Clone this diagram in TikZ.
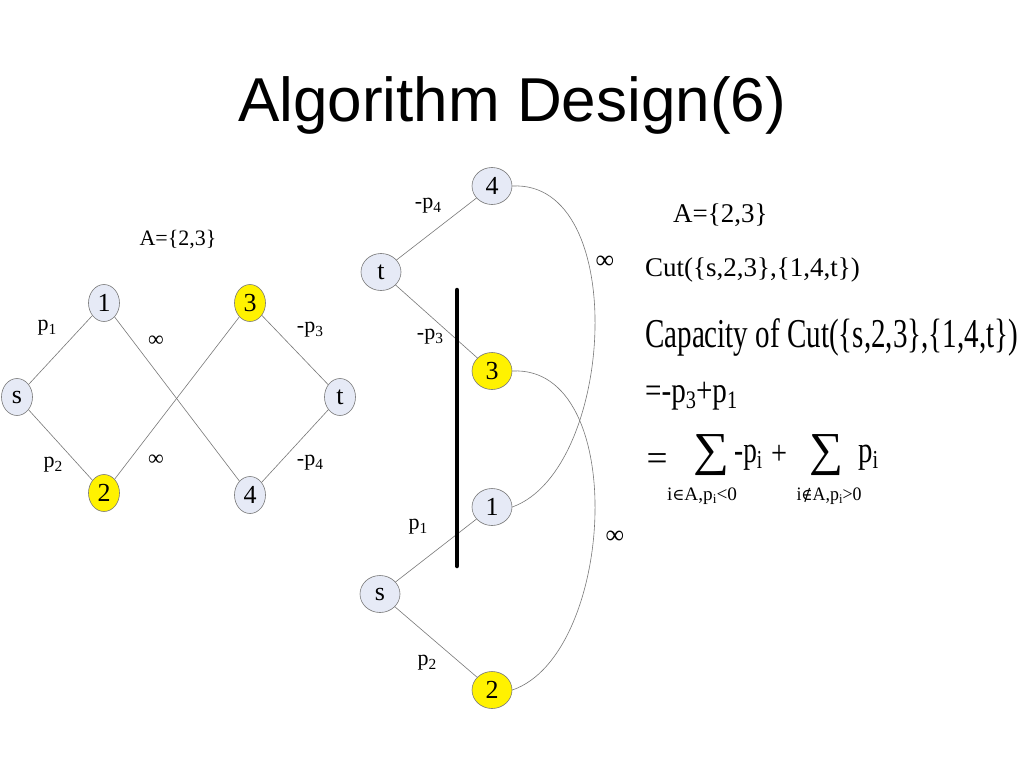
\documentclass[tikz,border=0pt]{standalone}
\usepackage{fontspec}
\setmainfont{Liberation Serif}
\newfontfamily\titlefont{Liberation Sans}
\newfontfamily\symfont{DejaVu Serif}
\usepackage{graphicx}
\usetikzlibrary{shapes.geometric}
\newcommand\lo[1]{\raisebox{-0.18em}{\scalebox{0.7}{#1}}}
\newcommand\fitw[2]{\resizebox{#1}{\height}{#2}}
\definecolor{nodefill}{RGB}{230,234,246}
\definecolor{edgegray}{RGB}{120,120,120}
\begin{document}
\begin{tikzpicture}[x=1pt,y=-1pt,
  vtx/.style={ellipse,draw=edgegray,fill=nodefill,line width=0.6pt,inner sep=0pt,
    minimum width=31pt,minimum height=37pt,font=\fontsize{26}{26}\selectfont},
  vtxb/.style={vtx,minimum width=40pt,minimum height=37pt},
  hot/.style={fill=yellow},
  edge/.style={draw=edgegray,line width=0.6pt},
  lbl/.style={inner sep=0pt,font=\fontsize{22}{24}\selectfont},
  lblb/.style={inner sep=0pt,font=\fontsize{26}{28}\selectfont},
  txt/.style={inner sep=0pt,font=\fontsize{27}{30}\selectfont},
  cutline/.style={line width=4.5pt,line cap=round,black}
]
\useasboundingbox[fill=white] (0,0) rectangle (1024,768);

% title
\node[inner sep=0pt,anchor=base,font=\titlefont\fontsize{62}{64}\selectfont] (title) at (512,121) {Algorithm Design(6)};

% ---------- left graph ----------
\node[vtx] (ls) at (17,397) {s};
\node[vtx] (l1) at (104,303) {1};
\node[vtx,hot] (l2) at (104,493) {2};
\node[vtx,hot] (l3) at (250,303) {3};
\node[vtx] (l4) at (250,495) {4};
\node[vtx] (lt) at (340,397) {t};
\draw[edge] (ls) -- (l1);
\draw[edge] (ls) -- (l2);
\draw[edge] (l1) -- (l4);
\draw[edge] (l2) -- (l3);
\draw[edge] (l3) -- (lt);
\draw[edge] (l4) -- (lt);
\node[lbl] (la) at (178,240) {A=\{2,3\}};
\node[lbl] (lp1) at (47,328) {p\lo{1}};
\node[lbl] (lp2) at (53,465) {p\lo{2}};
\node[lbl] (linf1) at (156,341) {∞};
\node[lbl] (linf2) at (156,460) {∞};
\node[lbl] (lp3) at (310,330) {-p\lo{3}};
\node[lbl] (lp4) at (310,463) {-p\lo{4}};

% ---------- middle graph ----------
\node[vtxb] (m4) at (492,186) {4};
\node[vtxb] (mt) at (381,272) {t};
\node[vtxb,hot] (m3) at (492,371) {3};
\node[vtxb] (m1) at (492,507) {1};
\node[vtxb] (ms) at (380,594) {s};
\node[vtxb,hot] (m2) at (492,690) {2};
\draw[edge] (mt) -- (m4);
\draw[edge] (mt) -- (m3);
\draw[edge] (ms) -- (m1);
\draw[edge] (ms) -- (m2);
\draw[edge] (m4.east) .. controls (630,180) and (615,470) .. (m1.east);
\draw[edge] (m3.east) .. controls (630,365) and (615,655) .. (m2.east);
\coordinate (ctop) at (457,290);
\coordinate (cbot) at (457,566);
\draw[cutline] (ctop) -- (cbot);
\node[lbl] (mp4) at (428,206) {-p\lo{4}};
\node[lbl] (mp3) at (430,337) {-p\lo{3}};
\node[lbl] (mp1) at (418,527) {p\lo{1}};
\node[lbl] (mp2) at (427,663) {p\lo{2}};
\node[lblb] (minf1) at (605,262) {∞};
\node[lblb] (minf2) at (615,537) {∞};

% ---------- right text ----------
\node[txt,anchor=west] (ra) at (673,215) {A=\{2,3\}};
\node[txt,anchor=west] (rcut) at (645,270) {Cut(\{s,2,3\},\{1,4,t\})};
\node[inner sep=0pt,anchor=base west] (rcap) at (645,347)
  {\fitw{373pt}{\fontsize{41}{43}\selectfont Capacity of Cut(\{s,2,3\},\{1,4,t\})}};
\node[inner sep=0pt,anchor=base west] (req1) at (645,402)
  {\fitw{92pt}{\fontsize{36}{38}\selectfont =-p\lo{3}+p\lo{1}}};
\node[inner sep=0pt] (req2) at (657,462) {\fitw{21pt}{\fontsize{37}{38}\selectfont =}};
\node[inner sep=0pt] (rsum1) at (711,455) {\resizebox*{36pt}{41pt}{∑}};
\node[inner sep=0pt] (rsum2) at (826,455) {\resizebox*{34pt}{41pt}{∑}};
\node[inner sep=0pt,anchor=base west] (rneg) at (734,462)
  {\fitw{28pt}{\fontsize{37}{38}\selectfont -p\lo{i}}};
\node[inner sep=0pt] (rplus) at (779,455) {\fitw{16pt}{\fontsize{34}{36}\selectfont +}};
\node[inner sep=0pt,anchor=base west] (rpos) at (858,462)
  {\fitw{20pt}{\fontsize{37}{38}\selectfont p\lo{i}}};
\node[inner sep=0pt] (rsub1) at (702,496)
  {\fitw{70pt}{\fontsize{19}{21}\selectfont i{\symfont\scalebox{0.85}{∈}}A,p\lo{i}<0}};
\node[inner sep=0pt] (rsub2) at (829,496)
  {\fitw{65pt}{\fontsize{19}{21}\selectfont i{\symfont\scalebox{0.85}{∉}}A,p\lo{i}>0}};
\end{tikzpicture}
\end{document}
